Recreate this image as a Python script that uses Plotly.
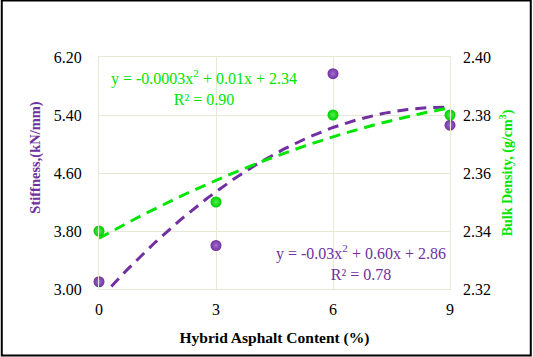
import numpy as np
import plotly.graph_objects as go

content = [0, 3, 6, 9]
stiffness = [3.10, 3.60, 5.97, 5.26]
density = [2.34, 2.35, 2.38, 2.38]
x_ticks = [0, 3, 6, 9]
y1_ticks = [3.00, 3.80, 4.60, 5.40, 6.20]
y2_ticks = [2.32, 2.34, 2.36, 2.38, 2.40]
eq_stiff = "y = -0.03x<sup>2</sup> + 0.60x + 2.86<br>R² = 0.78"
eq_dens = "y = -0.0003x<sup>2</sup> + 0.01x + 2.34<br>R² = 0.90"

PURPLE = "#7030a0"
GREEN = "#00e600"
FONT = "Liberation Serif"

xs = np.linspace(0, 9, 200)
c1 = np.polyfit(content, stiffness, 2)
c2 = np.polyfit(content, density, 2)

fig = go.Figure()
fig.add_trace(go.Scatter(x=xs, y=np.polyval(c1, xs), mode="lines",
                         line=dict(color=PURPLE, width=3, dash="11px,7px"),
                         yaxis="y", showlegend=False, hoverinfo="skip"))
fig.add_trace(go.Scatter(x=xs, y=np.polyval(c2, xs), mode="lines",
                         line=dict(color=GREEN, width=3, dash="11px,7px"),
                         yaxis="y2", showlegend=False, hoverinfo="skip"))
fig.add_trace(go.Scatter(x=content, y=stiffness, mode="markers",
                         marker=dict(size=11, color=PURPLE, line=dict(width=0),
                                     gradient=dict(type="radial", color="#a070d0")),
                         yaxis="y", showlegend=False, cliponaxis=False))
fig.add_trace(go.Scatter(x=content, y=density, mode="markers",
                         marker=dict(size=11, color="#00cc00", line=dict(width=0),
                                     gradient=dict(type="radial", color="#50f050")),
                         yaxis="y2", showlegend=False, cliponaxis=False))

W, H = 533, 357
L, R, T, B = 98.5, 450.5, 57, 289
grid = "#e6e9d6"

def px(xp):
    return (xp - L) / (R - L)

def py(yp):
    return (B - yp) / (B - T)

fig.update_layout(
    width=W, height=H,
    margin=dict(l=L, r=W - R, t=T, b=H - B, pad=0),
    paper_bgcolor="white", plot_bgcolor="white",
    font=dict(family=FONT, size=16, color="black"),
    xaxis=dict(range=[0, 9], tickvals=x_ticks, ticktext=[str(v) for v in x_ticks],
               showgrid=True, gridcolor=grid, gridwidth=1, zeroline=False,
               showline=True, linecolor=grid, mirror=True, ticks="",
               tickfont=dict(family=FONT, size=16), ticklabelstandoff=6,
               title=dict(text="<b>Hybrid Asphalt Content (%)</b>",
                          font=dict(family=FONT, size=15.5), standoff=14)),
    yaxis=dict(range=[3.0, 6.2], tickvals=y1_ticks,
               ticktext=[f"{v:.2f}" for v in y1_ticks],
               showgrid=True, gridcolor=grid, gridwidth=1, zeroline=False,
               showline=True, linecolor=grid, mirror=True, ticks="",
               tickfont=dict(family=FONT, size=16), ticklabelstandoff=13),
    yaxis2=dict(range=[2.32, 2.40], tickvals=y2_ticks,
                ticktext=[f"{v:.2f}" for v in y2_ticks],
                overlaying="y", side="right", showgrid=False, zeroline=False,
                ticks="", tickfont=dict(family=FONT, size=16), ticklabelstandoff=12,
                title=dict(text="<b>Bulk Density, (g/cm<sup>3</sup>)</b>",
                           font=dict(family=FONT, size=14, color=GREEN), standoff=12)),
    annotations=[
        dict(text="<b>Stiffness,(kN/mm)</b>", xref="paper", yref="paper",
             x=px(34), y=py(157), xanchor="center", yanchor="middle", textangle=-90,
             showarrow=False, font=dict(family=FONT, size=14.5, color=PURPLE)),
        dict(text=eq_dens, xref="paper", yref="paper", x=px(204), y=py(87),
             xanchor="center", yanchor="middle",
             showarrow=False, font=dict(family=FONT, size=16, color=GREEN), align="center"),
        dict(text=eq_stiff, xref="paper", yref="paper", x=px(361), y=py(262),
             xanchor="center", yanchor="middle",
             showarrow=False, font=dict(family=FONT, size=16, color=PURPLE), align="center"),
    ],
    shapes=[dict(type="rect", xref="paper", yref="paper",
                 x0=px(1), x1=px(531.5), y0=py(355.5), y1=py(0.5),
                 line=dict(color="black", width=2), layer="above")],
)

fig.write_html("out.html", config={"displayModeBar": False},
               post_script="document.body.style.margin='0px';document.body.style.overflow='hidden';")
